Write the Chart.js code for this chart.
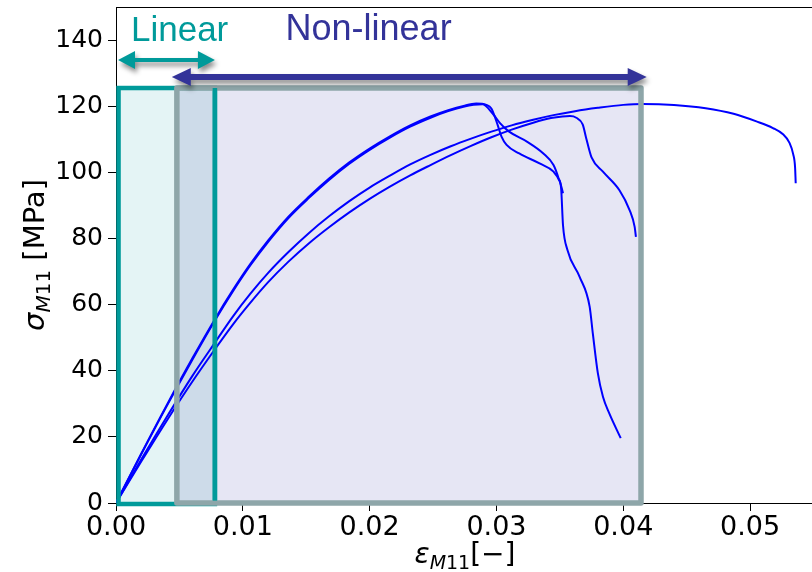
<!DOCTYPE html>
<html>
<head>
<meta charset="utf-8">
<script src="https://cdn.jsdelivr.net/npm/chart.js@4.4.1/dist/chart.umd.min.js"></script>
<style>
  html, body { margin: 0; padding: 0; background: #ffffff; overflow: hidden; }
  #wrap { width: 812px; height: 572px; overflow: hidden; position: relative; }
  canvas { display: block; }
</style>
</head>
<body>
<div id="wrap"><canvas id="c" width="816" height="572"></canvas></div>
<script>
// ---- tick labels ----
const xTicks = [0, 0.01, 0.02, 0.03, 0.04, 0.05];
const yTicks = [0, 20, 40, 60, 80, 100, 120, 140];

// ---- series (strain, stress) ----
const c1X = [0, 0.002, 0.004, 0.006, 0.0078, 0.0092, 0.0106, 0.012, 0.0136, 0.0152, 0.0168, 0.0184, 0.02, 0.0216, 0.0232, 0.0248, 0.0262, 0.0274, 0.0284, 0.0292, 0.0296, 0.0301, 0.0304, 0.0308, 0.0318, 0.0334, 0.0345, 0.035, 0.03525];
const c1Y = [0, 15, 29.6, 43.6, 55.6, 64.3, 72.3, 79.4, 86.6, 92.6, 98.1, 103.0, 107.2, 110.9, 114.2, 116.9, 118.8, 120.1, 120.8, 120.4, 119.3, 114.3, 110.8, 108.3, 105.7, 102.7, 100.2, 97.2, 93.7];

const c2X = [0, 0.002, 0.004, 0.006, 0.0078, 0.0092, 0.0106, 0.012, 0.0136, 0.0152, 0.0168, 0.0184, 0.02, 0.0216, 0.0232, 0.0248, 0.0262, 0.0274, 0.0282, 0.0289, 0.0297, 0.0303, 0.031, 0.0324, 0.0337, 0.0345, 0.0349, 0.0351, 0.03525, 0.0356, 0.03656, 0.03735, 0.0376, 0.038, 0.0384, 0.0389, 0.0398];
const c2Y = [0, 14.8, 29.3, 43.2, 55.2, 63.9, 71.9, 79.0, 86.2, 92.2, 97.7, 102.6, 106.8, 110.5, 113.8, 116.5, 118.5, 119.8, 120.4, 120.6, 117.8, 114.8, 112.3, 109.3, 105.7, 102.2, 98.2, 95.2, 84, 76.5, 68.4, 59.4, 51.3, 39.2, 32.1, 27.1, 19.6];

const c3X = [0, 0.002, 0.004, 0.006, 0.0078, 0.0092, 0.0106, 0.012, 0.0136, 0.0152, 0.0168, 0.0184, 0.02, 0.0216, 0.0232, 0.0248, 0.0264, 0.028, 0.0296, 0.0312, 0.0329, 0.0343, 0.0352, 0.0358, 0.0363, 0.0368, 0.0371, 0.0375, 0.0384, 0.0397, 0.0405, 0.0409, 0.041];
const c3Y = [0, 12.6, 24.9, 36.6, 46.5, 53.9, 60.6, 66.8, 73.0, 78.5, 83.4, 87.9, 92.0, 95.7, 99.1, 102.2, 105.2, 108.0, 110.6, 112.9, 115.0, 116.4, 116.9, 117.0, 116.5, 114.5, 110.0, 104.5, 100.2, 94.6, 88.6, 83.5, 80.5];

const c4X = [0, 0.002, 0.004, 0.006, 0.0078, 0.0092, 0.0106, 0.012, 0.0136, 0.0152, 0.0168, 0.0184, 0.02, 0.0216, 0.0232, 0.0248, 0.0264, 0.028, 0.0296, 0.0312, 0.0329, 0.0345, 0.0362, 0.038, 0.04, 0.0415, 0.044, 0.0465, 0.0487, 0.0505, 0.0518, 0.0526, 0.0531, 0.0534, 0.05355, 0.0536];
const c4Y = [0, 13.2, 26.0, 38.3, 48.5, 56.3, 63.3, 69.6, 75.9, 81.6, 86.7, 91.3, 95.4, 99.0, 102.4, 105.3, 107.9, 110.2, 112.3, 114.2, 115.9, 117.3, 118.5, 119.5, 120.4, 120.7, 120.4, 119.4, 117.7, 115.4, 113.4, 111.5, 109.0, 105.5, 101.5, 96.7];

// ---- annotation regions (data coordinates) ----
const linearRegion = [0.0002, 0.0078];
const nonlinearRegion = [0.0048, 0.0414];
const regionTop = 125.5;
const linearArrow = [0.00016, 0.0078, 134];
const nonlinearArrow = [0.0044, 0.04185, 128.8];
const labelLinear = ['Linear', 0.00118, 139.7];
const labelNonlinear = ['Non-linear', 0.01337, 140];

const curves = [[c1X, c1Y], [c2X, c2Y], [c3X, c3Y], [c4X, c4Y]];
const datasets = curves.map(([xs, ys]) => ({
  data: xs.map((x, i) => ({ x: x, y: ys[i] })),
  showLine: true,
  borderColor: '#0000ff',
  borderWidth: 2,
  pointRadius: 0,
  cubicInterpolationMode: 'monotone',
  fill: false
}));

const COL_TEAL = '#009a9a';
const COL_GRAY = '#8ea6a9';
const COL_NAVY = '#333399';

function boxCoords(chart, x0, x1, y0, y1) {
  const xs = chart.scales.x, ys = chart.scales.y;
  return [xs.getPixelForValue(x0), ys.getPixelForValue(y1), xs.getPixelForValue(x1), ys.getPixelForValue(y0)];
}

function dblArrow(ctx, x1, x2, y, shaft, headLen, headHalf) {
  ctx.beginPath();
  ctx.moveTo(x1, y);
  ctx.lineTo(x1 + headLen, y - headHalf);
  ctx.lineTo(x1 + headLen, y - shaft / 2);
  ctx.lineTo(x2 - headLen, y - shaft / 2);
  ctx.lineTo(x2 - headLen, y - headHalf);
  ctx.lineTo(x2, y);
  ctx.lineTo(x2 - headLen, y + headHalf);
  ctx.lineTo(x2 - headLen, y + shaft / 2);
  ctx.lineTo(x1 + headLen, y + shaft / 2);
  ctx.lineTo(x1 + headLen, y + headHalf);
  ctx.closePath();
  ctx.fill();
}

function drawParts(ctx, parts, size, subSize, subDrop, cx, baseY) {
  const fontOf = p => (p.it ? 'italic ' : '') + (p.sub ? subSize : size) + 'px "DejaVu Sans"';
  let total = 0;
  parts.forEach(p => { ctx.font = fontOf(p); p.w = ctx.measureText(p.t).width; total += p.w; });
  let x = cx - total / 2;
  ctx.textAlign = 'left';
  ctx.textBaseline = 'alphabetic';
  parts.forEach(p => {
    ctx.font = fontOf(p);
    ctx.fillText(p.t, x, baseY + (p.sub ? subDrop : 0));
    x += p.w;
  });
}

const overlayPlugin = {
  id: 'overlay',
  beforeDatasetsDraw(chart) {
    const ctx = chart.ctx;
    const [lx0, ty, lx1, by] = boxCoords(chart, linearRegion[0], linearRegion[1], 0, regionTop);
    const [nx0, , nx1] = boxCoords(chart, nonlinearRegion[0], nonlinearRegion[1], 0, regionTop);
    ctx.save();
    ctx.fillStyle = '#e4f4f5';
    ctx.fillRect(lx0, ty, lx1 - lx0, by - ty);
    ctx.fillStyle = '#e6e6f4';
    ctx.fillRect(nx0, ty, nx1 - nx0, by - ty);
    ctx.fillStyle = '#cddbe9';
    ctx.fillRect(nx0, ty, lx1 - nx0, by - ty);
    ctx.restore();
  },
  afterDatasetsDraw(chart) {
    const ctx = chart.ctx;
    const ca = chart.chartArea;
    const [lx0, ty, lx1, by] = boxCoords(chart, linearRegion[0], linearRegion[1], 0, regionTop);
    const [nx0, , nx1] = boxCoords(chart, nonlinearRegion[0], nonlinearRegion[1], 0, regionTop);
    ctx.save();
    ctx.strokeStyle = '#000000';
    ctx.lineWidth = 1;
    ctx.beginPath();
    ctx.moveTo(ca.left, ca.top + 0.5);
    ctx.lineTo(ca.right, ca.top + 0.5);
    ctx.stroke();
    ctx.strokeStyle = COL_TEAL;
    ctx.lineWidth = 4.5;
    ctx.lineJoin = 'miter';
    ctx.strokeRect(lx0, ty, lx1 - lx0, by + 1 - ty);
    ctx.strokeStyle = COL_GRAY;
    ctx.lineWidth = 5.5;
    ctx.lineJoin = 'round';
    ctx.strokeRect(nx0, ty, nx1 - nx0, by - ty);
    ctx.strokeStyle = COL_TEAL;
    ctx.lineWidth = 4.5;
    ctx.beginPath();
    ctx.moveTo(lx1, ty);
    ctx.lineTo(lx1, by - 2.5);
    ctx.stroke();
    ctx.restore();
  },
  afterDraw(chart) {
    const ctx = chart.ctx;
    const xs = chart.scales.x, ys = chart.scales.y;
    ctx.save();
    ctx.shadowColor = 'rgba(0,0,0,0.45)';
    ctx.shadowBlur = 5;
    ctx.shadowOffsetX = 2;
    ctx.shadowOffsetY = 4;
    ctx.fillStyle = COL_TEAL;
    dblArrow(ctx, xs.getPixelForValue(linearArrow[0]), xs.getPixelForValue(linearArrow[1]), ys.getPixelForValue(linearArrow[2]), 4, 17, 9);
    ctx.fillStyle = COL_NAVY;
    dblArrow(ctx, xs.getPixelForValue(nonlinearArrow[0]), xs.getPixelForValue(nonlinearArrow[1]), ys.getPixelForValue(nonlinearArrow[2]), 6, 19, 9);
    ctx.shadowColor = 'rgba(0,0,0,0)';
    ctx.shadowBlur = 0; ctx.shadowOffsetX = 0; ctx.shadowOffsetY = 0;
    ctx.textAlign = 'left';
    ctx.textBaseline = 'alphabetic';
    ctx.font = '35px "Liberation Sans", Arial, sans-serif';
    ctx.fillStyle = COL_TEAL;
    ctx.fillText(labelLinear[0], xs.getPixelForValue(labelLinear[1]), ys.getPixelForValue(labelLinear[2]));
    ctx.font = '36px "Liberation Sans", Arial, sans-serif';
    ctx.fillStyle = COL_NAVY;
    ctx.fillText(labelNonlinear[0], xs.getPixelForValue(labelNonlinear[1]), ys.getPixelForValue(labelNonlinear[2]));
    ctx.fillStyle = '#000000';
    drawParts(ctx, [{ t: 'ε', it: true }, { t: 'M', it: true, sub: true }, { t: '11', sub: true }, { t: '[−]' }], 28, 19, 6, 465, 563);
    ctx.translate(44, 255);
    ctx.rotate(-Math.PI / 2);
    drawParts(ctx, [{ t: 'σ', it: true }, { t: 'M', it: true, sub: true }, { t: '11', sub: true }, { t: ' [MPa]' }], 29, 20, 6, 0, 0);
    ctx.restore();
  }
};

new Chart(document.getElementById('c'), {
  type: 'scatter',
  data: { datasets: datasets },
  options: {
    responsive: false,
    animation: false,
    devicePixelRatio: 1,
    layout: { padding: { top: 7, left: 0, right: 0, bottom: 0 } },
    plugins: { legend: { display: false }, tooltip: { enabled: false } },
    scales: {
      x: {
        type: 'linear',
        min: 0,
        max: 0.0552,
        afterBuildTicks: s => { s.ticks = xTicks.map(v => ({ value: v })); },
        afterFit: s => { s.height = 69; s.paddingLeft = 0; s.paddingRight = 0; },
        grid: { drawOnChartArea: false, drawTicks: true, tickLength: 8, color: '#000000', tickWidth: 1 },
        border: { display: true, color: '#000000', width: 1 },
        ticks: {
          color: '#000000',
          font: { family: 'DejaVu Sans', size: 27 },
          padding: 1,
          maxRotation: 0,
          autoSkip: false,
          callback: v => Number(v).toFixed(2)
        }
      },
      y: {
        type: 'linear',
        min: 0,
        max: 150,
        afterBuildTicks: s => { s.ticks = yTicks.map(v => ({ value: v })); },
        afterFit: s => { s.width = 116; s.paddingTop = 0; s.paddingBottom = 0; },
        grid: { drawOnChartArea: false, drawTicks: true, tickLength: 8, color: '#000000', tickWidth: 1 },
        border: { display: true, color: '#000000', width: 1 },
        ticks: {
          color: '#000000',
          font: { family: 'DejaVu Sans', size: 25 },
          padding: 5,
          autoSkip: false,
          callback: v => String(v)
        }
      }
    }
  },
  plugins: [overlayPlugin]
});
</script>
</body>
</html>
